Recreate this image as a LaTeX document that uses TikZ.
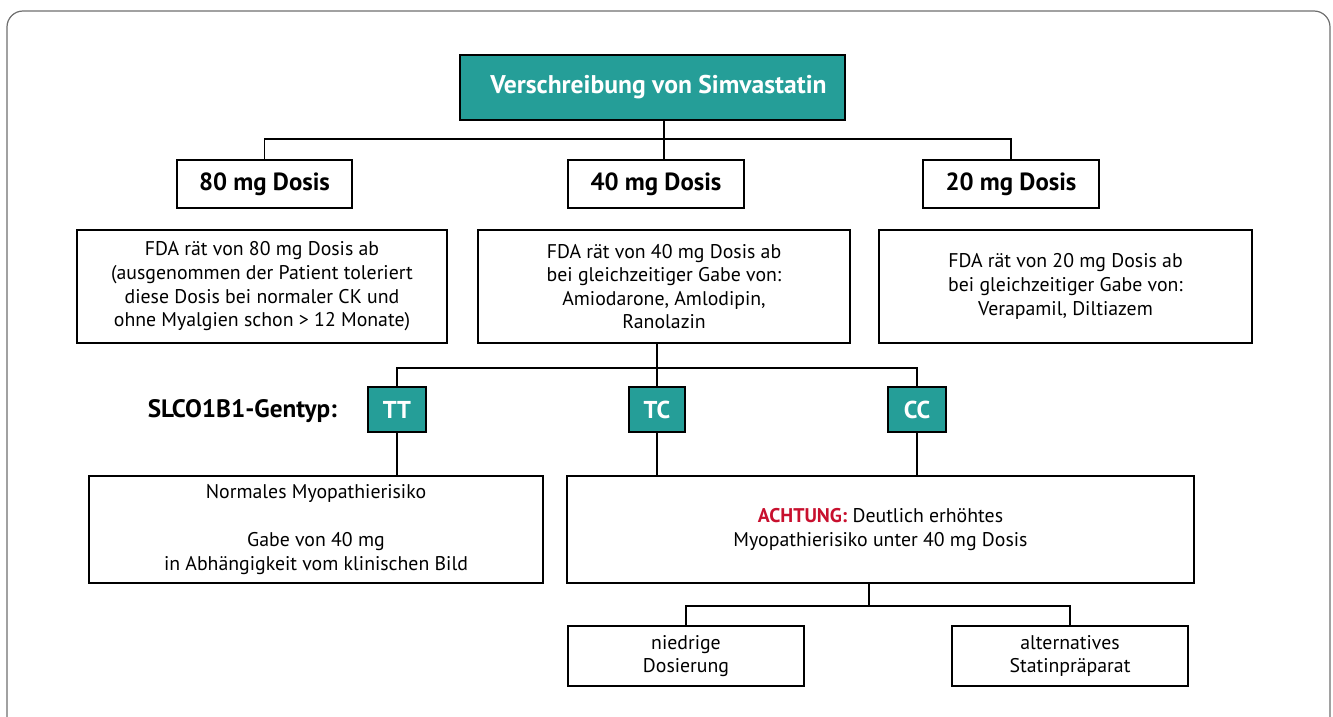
\documentclass[tikz,border=0pt]{standalone}
\usepackage{fontspec}
\setmainfont{PT Sans}
\usepackage{tikz}
\usetikzlibrary{positioning}
\definecolor{boxTeal}{RGB}{37,158,152}
\definecolor{alertRed}{RGB}{200,16,46}
\definecolor{frameGray}{RGB}{110,110,110}
\tikzstyle{chart} = [x = .5pt, y = -.5pt]
\tikzstyle{plainBox} = [draw=black, fill=white, line width=.8pt, inner sep=0pt, align=center, font=\fontsize{9.9}{11.8}\selectfont]
\tikzstyle{doseBox} = [plainBox, font=\fontsize{12.4}{14}\selectfont\bfseries]
\tikzstyle{tealBox} = [plainBox, fill=boxTeal, text=white, font=\fontsize{12.2}{14}\selectfont\bfseries]
\tikzstyle{branchLine} = [line width=.8pt, color=black]
\newcommand{\pxUnit}{.5pt}
% style, name, left, top, right, bottom, text
\newcommand{\diagBox}[7]{\node [#1, minimum width={(#5-#3)*\pxUnit}, minimum height={(#6-#4)*\pxUnit}] (#2) at ({(#3+#5)/2},{(#4+#6)/2}) {#7};}

\begin{document}
\begin{tikzpicture}[chart]
    \useasboundingbox (0,0) rectangle (1333,717);
    \begin{scope}
      \clip (0,0) rectangle (1333,717);
      \draw [frameGray, line width=.6pt, rounded corners=8pt] (7,11) rectangle (1330,760);
    \end{scope}
    % top level
    \diagBox{tealBox}{start}{460}{55}{845}{120}{\hspace*{6pt}\fontsize{12.8}{14}\selectfont Verschreibung von Simvastatin}
    \diagBox{doseBox}{dose80}{177}{160}{352}{208}{80 mg Dosis}
    \diagBox{doseBox}{dose40}{568}{160}{744}{208}{40 mg Dosis}
    \diagBox{doseBox}{dose20}{923}{160}{1099}{208}{20 mg Dosis}
    \coordinate (split1) at (664,139);
    \draw [branchLine] (start.south -| split1) -- (dose40.north -| split1);
    \draw [branchLine] (dose80.north) |- (split1) -| (dose20.north);
    % FDA notes
    \diagBox{plainBox}{note80}{77}{230}{447}{343}{FDA rät von 80 mg Dosis ab\\(ausgenommen der Patient toleriert\\diese Dosis bei normaler CK und\\ohne Myalgien schon > 12 Monate)}
    \diagBox{plainBox}{note40}{478}{230}{850}{343}{FDA rät von 40 mg Dosis ab\\bei gleichzeitiger Gabe von:\\Amiodarone, Amlodipin,\\Ranolazin}
    \diagBox{plainBox}{note20}{879}{230}{1252}{343}{FDA rät von 20 mg Dosis ab\\bei gleichzeitiger Gabe von:\\Verapamil, Diltiazem}
    % genotype
    \node [font=\fontsize{12.6}{14}\selectfont\bfseries, anchor=east] (genLabel) at (344,411) {SLCO1B1-Gentyp:};
    \diagBox{tealBox}{geneTT}{368}{387}{426}{432}{TT}
    \diagBox{tealBox}{geneTC}{629}{387}{685}{432}{TC}
    \diagBox{tealBox}{geneCC}{888}{387}{946}{432}{CC}
    \coordinate (split2) at (657,368);
    \draw [branchLine] (note40.south -| split2) -- (geneTC.north);
    \draw [branchLine] (geneTT.north) |- (split2) -| (geneCC.north);
    % risk
    \diagBox{plainBox}{riskNormal}{89}{476}{543}{583}{Normales Myopathierisiko\\[12pt]Gabe von 40 mg\\in Abhängigkeit vom klinischen Bild}
    \diagBox{plainBox}{riskHigh}{567}{476}{1194}{583}{{\color{alertRed}\bfseries ACHTUNG:} Deutlich erhöhtes\\Myopathierisiko unter 40 mg Dosis}
    \draw [branchLine] (geneTT.south) -- (riskNormal.north -| geneTT);
    \draw [branchLine] (geneTC.south) -- (riskHigh.north -| geneTC);
    \draw [branchLine] (geneCC.south) -- (riskHigh.north -| geneCC);
    % options
    \diagBox{plainBox}{lowDose}{568}{626}{804}{686}{niedrige\\Dosierung}
    \diagBox{plainBox}{otherStatin}{952}{626}{1188}{686}{alternatives\\Statinpräparat}
    \coordinate (split3) at (869,606);
    \draw [branchLine] (riskHigh.south -| split3) -- (split3);
    \draw [branchLine] (lowDose.north) |- (split3) -| (otherStatin.north);
\end{tikzpicture}
\end{document}
